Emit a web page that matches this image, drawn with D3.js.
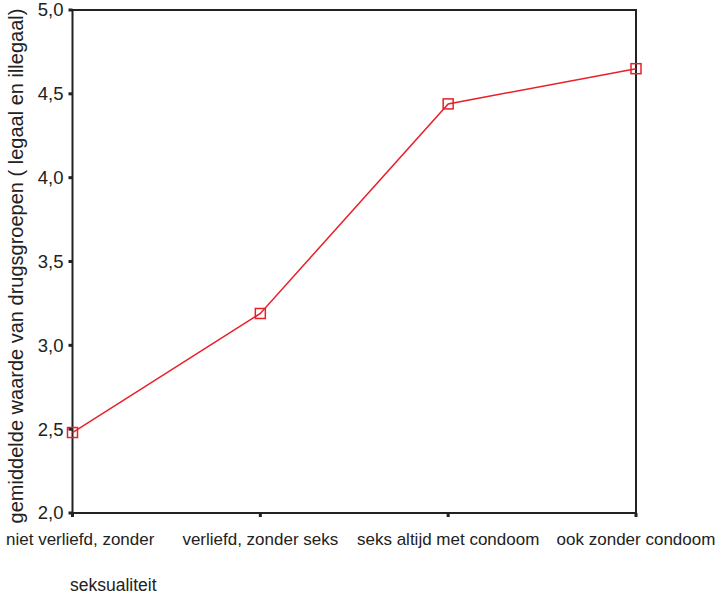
<!DOCTYPE html>
<html><head><meta charset="utf-8">
<script src="https://cdn.jsdelivr.net/npm/d3@7"></script>
<style>body{margin:0;background:#fff}svg{display:block}text{font-family:"Liberation Sans",Arial,sans-serif;fill:#222}</style>
</head><body>
<svg id="c" width="720" height="595"></svg>
<script>
const categories = ["niet verliefd, zonder","verliefd, zonder seks","seks altijd met condoom","ook zonder condoom"];
const values = [2.48, 3.19, 4.44, 4.65];
const yTicks = [2.0, 2.5, 3.0, 3.5, 4.0, 4.5, 5.0];
const yLabel = "gemiddelde waarde van drugsgroepen ( legaal en illegaal)";
const xLabel = "seksualiteit";

const svg = d3.select("#c");
const L = 72.5, R = 636, T = 10, B = 513;
const x = d3.scalePoint().domain(categories).range([L, R]);
const y = d3.scaleLinear().domain([2, 5]).range([B, T]);

// frame
svg.append("rect").attr("x", L).attr("y", T).attr("width", R - L).attr("height", B - T)
  .attr("fill", "none").attr("stroke", "#222").attr("stroke-width", 2);

// y ticks
const fmt = d => d.toFixed(1).replace(".", ",");
yTicks.forEach(t => {
  svg.append("rect").attr("x", L - 4).attr("y", y(t) - 1.5).attr("width", 4).attr("height", 3).attr("fill", "#222");
  svg.append("text").attr("x", L - 9).attr("y", y(t)).attr("dy", "0.35em").attr("text-anchor", "end")
    .attr("font-size", 18.5).text(fmt(t));
});

// x ticks
categories.forEach(c => {
  svg.append("rect").attr("x", x(c) - 1.5).attr("y", B).attr("width", 3).attr("height", 4).attr("fill", "#222");
  const t = svg.append("text").attr("y", 545).attr("font-size", 17).text(c);
  const w = t.node().getComputedTextLength();
  let sx = x(c) - w / 2;
  if (sx < 6) sx = 6;
  if (sx + w > 718) sx = 718 - w;
  t.attr("x", sx);
});

// line
const line = d3.line().x((d, i) => x(categories[i])).y(d => y(d));
svg.append("path").datum(values).attr("d", line).attr("fill", "none")
  .attr("stroke", "#e8202a").attr("stroke-width", 1.5);
svg.selectAll(".m").data(values).enter().append("rect")
  .attr("x", (d, i) => x(categories[i]) - 5).attr("y", d => y(d) - 5)
  .attr("width", 10).attr("height", 10).attr("fill", "none")
  .attr("stroke", "#e8202a").attr("stroke-width", 1.5);

// axis labels
svg.append("text").attr("transform", `translate(23,266) rotate(-90)`)
  .attr("text-anchor", "middle").attr("font-size", 20).text(yLabel);
svg.append("text").attr("x", 70).attr("y", 591).attr("font-size", 17.5).text(xLabel);
</script>
</body></html>
